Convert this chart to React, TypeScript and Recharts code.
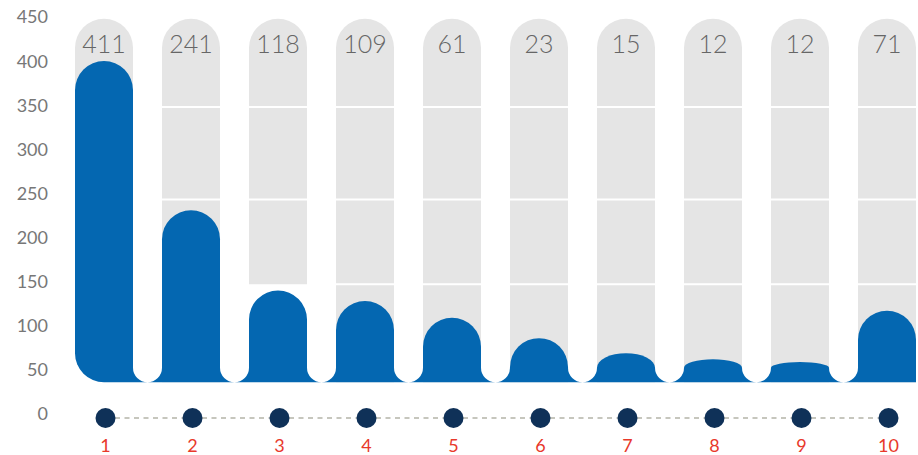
import { BarChart, Bar, XAxis, YAxis, LabelList } from "recharts"

const categories = ["1", "2", "3", "4", "5", "6", "7", "8", "9", "10"]
const counts = [411, 241, 118, 109, 61, 23, 15, 12, 12, 71]
// visible height of the blue bars
const blueTops = [400, 231, 140, 128, 109, 86, 69, 62, 59, 117]
const blueBase = 36
const greyTop = 448
// where each grey pill stops (hidden behind the blue except for bar 3)
const greyBottoms = [150, 36, 147, 36, 36, 36, 36, 36, 36, 36]
const whiteLines = [348, 243, 147]
const yTicks = [0, 50, 100, 150, 200, 250, 300, 350, 400, 450]

const data = categories.map((name, i) => ({
  name,
  count: counts[i],
  blue: [blueBase, blueTops[i]],
  grey: [greyBottoms[i], greyTop],
}))

const BAR_W = 58
const GAP = 29
const BLUE = "#0467b1"
const GREY = "#e5e5e5"
const FONT = "Lato, 'Open Sans', sans-serif"

function GreyPill(props: any) {
  const { x, y, width: w, height: h, payload } = props
  const r = w / 2
  const [lo, hi] = payload.grey
  const k = h / (hi - lo)
  return (
    <g>
      <path
        d={`M${x},${y + h} L${x},${y + r} A${r},${r} 0 0 1 ${x + w},${y + r} L${x + w},${y + h} Z`}
        fill={GREY}
      />
      {whiteLines
        .filter((v) => v > lo && v < hi)
        .map((v) => (
          <line key={v} x1={x} x2={x + w} y1={y + (hi - v) * k} y2={y + (hi - v) * k} stroke="#fff" strokeWidth={2} />
        ))}
    </g>
  )
}

function BlueBar(props: any) {
  const { x, y, width: w, height: h, index } = props
  const bottom = y + h
  const r = w / 2
  const nr = GAP / 2
  const bandTop = bottom - nr
  let edgeY = y + r
  let ry = r
  if (edgeY > bandTop) {
    edgeY = bandTop
    ry = Math.max(bandTop - y, 0.1)
  }
  let d = `M${x},${edgeY} A${r},${ry} 0 0 1 ${x + w},${edgeY} L${x + w},${bottom}`
  if (index === 0) {
    d += ` L${x + r},${bottom} A${r},${r} 0 0 1 ${x},${bottom - r} Z`
  } else {
    d += ` L${x},${bottom} Z`
  }
  const last = index === categories.length - 1
  const gx = x + w
  const corner = last
    ? ""
    : `M${gx},${bottom - nr} A${nr},${nr} 0 0 0 ${gx + 2 * nr},${bottom - nr} L${gx + 2 * nr},${bottom} L${gx},${bottom} Z`
  return (
    <g>
      <path d={d} fill={BLUE} />
      {corner && <path d={corner} fill={BLUE} />}
    </g>
  )
}

function DotTick(props: any) {
  const { x, y, payload, index } = props
  const cx = x + 2
  const last = index === categories.length - 1
  return (
    <g>
      {!last && (
        <line x1={cx} x2={cx + BAR_W + GAP} y1={y + 4} y2={y + 4} stroke="#c6c6bd" strokeWidth={2} strokeDasharray="5 4.5" />
      )}
      <circle cx={cx} cy={y + 4} r={10} fill="#0f3158" />
      <text x={cx} y={y + 38} textAnchor="middle" fill="#e8392b" fontSize={18} fontFamily={FONT}>
        {payload.value}
      </text>
    </g>
  )
}

function CountLabel(props: any) {
  const { x, y, width, value } = props
  return (
    <text x={x + width / 2} y={y + 34} textAnchor="middle" fill="#666" fontSize={25} fontWeight={300} fontFamily={FONT}>
      {value}
    </text>
  )
}

export default function App() {
  return (
    <div style={{ width: 918, height: 455, overflow: "hidden", background: "#fff" }}>
      <style>{"body{margin:0}"}</style>
      <BarChart
        width={930}
        height={455}
        data={data}
        margin={{ top: 17, right: 0, bottom: 0, left: 0 }}
        barSize={BAR_W}
        barGap={-BAR_W}
      >
        <XAxis
          dataKey="name"
          interval={0}
          tickLine={false}
          axisLine={false}
          tickSize={0}
          tickMargin={0}
          height={41}
          tick={<DotTick />}
        />
        <YAxis
          domain={[0, 450]}
          ticks={yTicks}
          width={60}
          tickLine={false}
          axisLine={false}
          tickSize={0}
          tickMargin={12}
          tick={{ fill: "#777", fontSize: 18, fontFamily: FONT }}
        />
        <Bar dataKey="grey" shape={<GreyPill />} isAnimationActive={false}>
          <LabelList dataKey="count" content={<CountLabel />} />
        </Bar>
        <Bar dataKey="blue" shape={<BlueBar />} isAnimationActive={false} />
      </BarChart>
    </div>
  )
}
